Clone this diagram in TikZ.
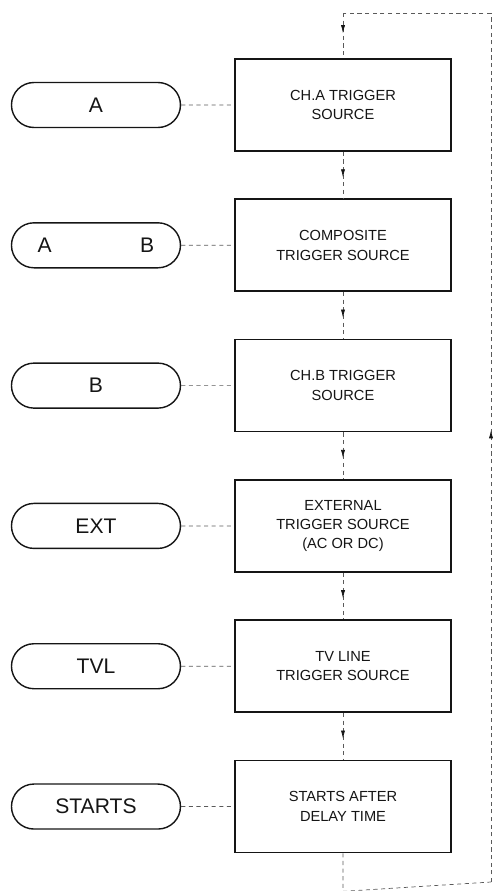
\documentclass[tikz,border=0pt]{standalone}
\usepackage{fontspec}
\setmainfont{Liberation Sans}
\usepackage{xcolor}
\usepackage{tikz}
\usetikzlibrary{arrows.meta,positioning,shapes.misc,calc,decorations.markings}
\definecolor{ink}{HTML}{151515}
\definecolor{wire}{HTML}{5A5A5A}
\tikzset{
  srcbox/.style={draw=ink,line width=1.4pt,fill=white,minimum width=6.48cm,minimum height=2.76cm,align=center,text=ink,font=\fontsize{12.5}{16.5}\selectfont},
  pill/.style={rounded rectangle,draw=ink,line width=1.2pt,minimum width=5.07cm,minimum height=1.35cm,inner sep=0pt,text=ink,font=\fontsize{18}{20}\selectfont},
  link/.style={draw=wire,line width=0.6pt,dash pattern=on 3.5pt off 3pt},
  midarrow/.style={postaction={decorate},decoration={markings,mark=at position #1 with {\arrow[ink,solid]{Latex[length=7pt,width=3.5pt]}}}},
}
\begin{document}
\begin{tikzpicture}[node distance=1.4cm]
    \useasboundingbox (0,0) rectangle (14.79,-26.73);
    \node[srcbox] (cha) at (10.29,-3.15) {CH.A TRIGGER\\SOURCE};
    \node[srcbox,below=of cha] (comp) {COMPOSITE\\TRIGGER SOURCE};
    \node[srcbox,below=of comp] (chb) {CH.B TRIGGER\\SOURCE};
    \node[srcbox,below=of chb] (ext) {EXTERNAL\\TRIGGER SOURCE\\(AC OR DC)};
    \node[srcbox,below=of ext] (tvl) {TV LINE\\TRIGGER SOURCE};
    \node[srcbox,below=of tvl] (dly) {STARTS AFTER\\DELAY TIME};
    \node[pill,left=1.59cm of cha] (pa) {A};
    \node[pill,left=1.59cm of comp] (pab) {\makebox[3.5cm]{A\hfill B}};
    \node[pill,left=1.59cm of chb] (pb) {B};
    \node[pill,left=1.59cm of ext] (pext) {EXT};
    \node[pill,left=1.59cm of tvl] (ptvl) {TVL};
    \node[pill,left=1.59cm of dly] (pdly) {STARTS};
    \draw[link] (pa) -- (cha); \draw[link] (pab) -- (comp); \draw[link] (pb) -- (chb);
    \draw[link] (pext) -- (ext); \draw[link] (ptvl) -- (tvl); \draw[link] (pdly) -- (dly);
    \draw[link,midarrow=0.55] (cha) -- (comp); \draw[link,midarrow=0.55] (comp) -- (chb);
    \draw[link,midarrow=0.55] (chb) -- (ext); \draw[link,midarrow=0.55] (ext) -- (tvl);
    \draw[link,midarrow=0.55] (tvl) -- (dly);
    \coordinate (lb) at ($(dly.south)+(0,-1.14)$);
    \coordinate (rb) at (14.73,-26.46);
    \coordinate (rt) at (14.73,-0.39);
    \coordinate (lt) at (cha.north |- rt);
    \draw[link] (dly.south) -- (lb) -- (rb);
    \draw[link,midarrow=0.52] (rb) -- (rt);
    \draw[link] (rt) -- (lt);
    \draw[link,midarrow=0.45] (lt) -- (cha.north);
  \end{tikzpicture}
\end{document}
